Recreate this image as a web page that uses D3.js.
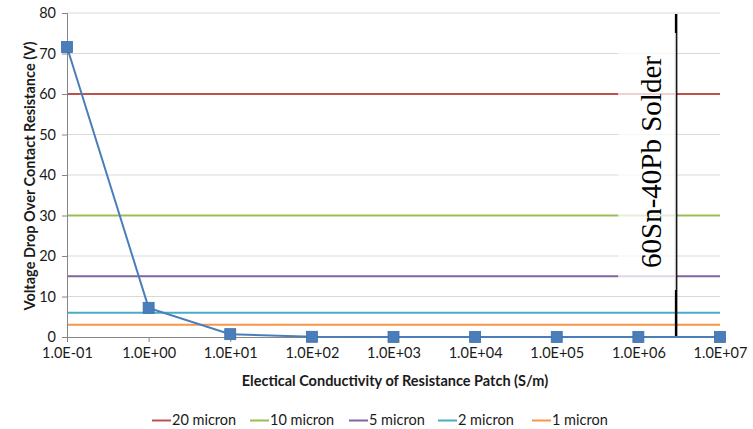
<!DOCTYPE html>
<html>
<head>
<meta charset="utf-8">
<script src="https://cdn.jsdelivr.net/npm/d3@7"></script>
<style>
  body { margin: 0; background: #fff; }
  text { font-family: Lato, "Open Sans", sans-serif; }
</style>
</head>
<body>
<div id="chart"></div>
<script>
// conductivity values (S/m) and measured voltage drop
var conductivity = [0.1, 1, 10, 100, 1000, 10000, 100000, 1000000, 10000000];
var voltageDrop = [71.6, 7.2, 0.7, 0.05, 0.02, 0.01, 0.01, 0.01, 0.01];

// horizontal threshold lines
var thresholdNames = ["20 micron", "10 micron", "5 micron", "2 micron", "1 micron"];
var thresholdValues = [60, 30, 15, 6, 3];
var thresholdColors = ["#C0504D", "#9BBB59", "#8064A2", "#4BACC6", "#F79646"];

var xTickValues = [0.1, 1, 10, 100, 1000, 10000, 100000, 1000000, 10000000];
var xTickLabels = ["1.0E-01", "1.0E+00", "1.0E+01", "1.0E+02", "1.0E+03", "1.0E+04", "1.0E+05", "1.0E+06", "1.0E+07"];
var yTickValues = [0, 10, 20, 30, 40, 50, 60, 70, 80];

var solderConductivity = 2.9e6;
var solderLabel = "60Sn-40Pb Solder";

var svgWidth = 753;
var svgHeight = 429;

var svg = d3.select("#chart")
    .append("svg")
    .attr("width", svgWidth)
    .attr("height", svgHeight);

//scales
var xScale = d3.scaleLog()
    .domain([0.1, 1e7])
    .range([67, 720]);
var yScale = d3.scaleLinear()
    .domain([0, 80])
    .range([337, 13]);

//gridlines
svg.append("g")
    .selectAll("line")
    .data(yTickValues.slice(1))
    .enter()
    .append("line")
    .attr("x1", xScale(0.1))
    .attr("x2", xScale(1e7))
    .attr("y1", d => yScale(d))
    .attr("y2", d => yScale(d))
    .attr("stroke", "#D9D9D9")
    .attr("stroke-width", 1.2);

//threshold lines
svg.append("g")
    .selectAll("line")
    .data(thresholdValues)
    .enter()
    .append("line")
    .attr("x1", xScale(0.1))
    .attr("x2", xScale(1e7))
    .attr("y1", d => yScale(d))
    .attr("y2", d => yScale(d))
    .attr("stroke", (d, i) => thresholdColors[i])
    .attr("stroke-width", 2);

//axes
var xAxis = d3.axisBottom(xScale)
    .tickValues(xTickValues)
    .tickFormat((d, i) => xTickLabels[i])
    .tickSize(5)
    .tickPadding(6);
var yAxis = d3.axisLeft(yScale)
    .tickValues(yTickValues)
    .tickSize(5)
    .tickPadding(6);

var gx = svg.append("g")
    .attr("transform", `translate(0, ${yScale(0)})`)
    .call(xAxis);
var gy = svg.append("g")
    .attr("transform", `translate(${xScale(0.1)}, 0)`)
    .call(yAxis);

[gx, gy].forEach(function(g) {
    g.selectAll("path, line").attr("stroke", "#868686");
    g.selectAll("text")
        .attr("fill", "#1a1a1a")
        .style("font-size", "14.5px");
});

//solder marker line
svg.append("line")
    .attr("x1", xScale(solderConductivity))
    .attr("x2", xScale(solderConductivity))
    .attr("y1", yScale(80) + 1)
    .attr("y2", yScale(0))
    .attr("stroke", "#000")
    .attr("stroke-width", 2.5);

//label box, fades what is behind the text
svg.append("rect")
    .attr("x", xScale(solderConductivity) - 58)
    .attr("y", 33)
    .attr("width", 58)
    .attr("height", 257)
    .attr("fill", "#fff")
    .attr("opacity", 0.75);

svg.append("text")
    .attr("transform", `translate(${xScale(solderConductivity) - 15}, 162) rotate(-90)`)
    .attr("text-anchor", "middle")
    .style("font-family", "'Liberation Serif', 'DejaVu Serif', serif")
    .style("font-size", "29px")
    .attr("fill", "#000")
    .text(solderLabel);

//data series
var line = d3.line()
    .x((d, i) => xScale(conductivity[i]))
    .y(d => yScale(d));

svg.append("path")
    .datum(voltageDrop)
    .attr("d", line)
    .attr("fill", "none")
    .attr("stroke", "#4A7EBB")
    .attr("stroke-width", 2);

svg.append("g")
    .selectAll("rect")
    .data(voltageDrop)
    .enter()
    .append("rect")
    .attr("x", (d, i) => xScale(conductivity[i]) - 5.5)
    .attr("y", d => yScale(d) - 5.5)
    .attr("width", 11)
    .attr("height", 11)
    .attr("fill", "#4A7EBB")
    .attr("stroke", "#3F6FA8")
    .attr("stroke-width", 0.8);

//axis titles
svg.append("text")
    .attr("x", 395)
    .attr("y", 386)
    .attr("text-anchor", "middle")
    .style("font-size", "14.5px")
    .style("font-weight", "bold")
    .attr("fill", "#1a1a1a")
    .text("Electical Conductivity of Resistance Patch (S/m)");

svg.append("text")
    .attr("transform", "translate(35, 176) rotate(-90)")
    .attr("text-anchor", "middle")
    .style("font-size", "14.5px")
    .style("font-weight", "bold")
    .attr("fill", "#1a1a1a")
    .text("Voltage Drop Over Contact Resistance (V)");

//legend
var legendX = [152, 250, 349, 438, 532];
var legend = svg.append("g")
    .selectAll("g")
    .data(thresholdNames)
    .enter()
    .append("g")
    .attr("transform", (d, i) => `translate(${legendX[i]}, 425)`);

legend.append("line")
    .attr("x1", 0)
    .attr("x2", 19)
    .attr("y1", -4.5)
    .attr("y2", -4.5)
    .attr("stroke", (d, i) => thresholdColors[i])
    .attr("stroke-width", 2);

legend.append("text")
    .attr("x", 20)
    .attr("y", 0)
    .style("font-size", "14.5px")
    .attr("fill", "#1a1a1a")
    .text(d => d);
</script>
</body>
</html>
